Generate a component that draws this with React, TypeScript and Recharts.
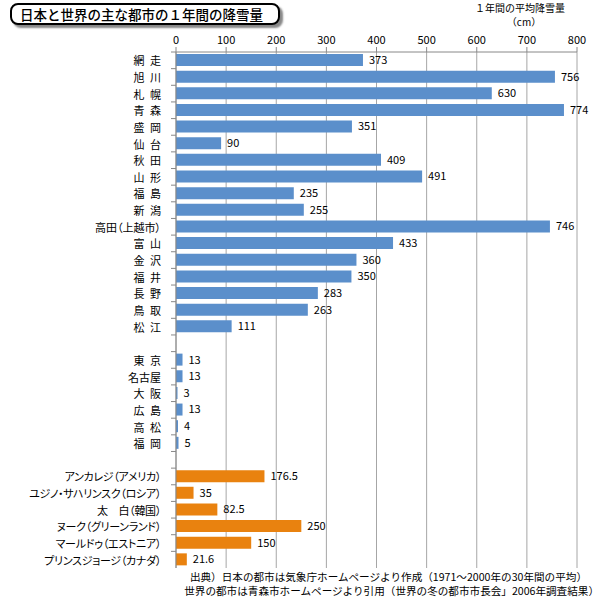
import React from "react";
import { BarChart, Bar, XAxis, YAxis, CartesianGrid, Cell, LabelList } from "recharts";

// 日本の豪雪都市
const snowyCities = ["網\u2002走", "旭\u2002川", "札\u2002幌", "青\u2002森", "盛\u2002岡", "仙\u2002台", "秋\u2002田", "山\u2002形", "福\u2002島", "新\u2002潟", "高田（上越市）", "富\u2002山", "金\u2002沢", "福\u2002井", "長\u2002野", "鳥\u2002取", "松\u2002江"];
const snowyValues = [373, 756, 630, 774, 351, 90, 409, 491, 235, 255, 746, 433, 360, 350, 283, 263, 111];

// 日本の主要都市
const majorCities = ["東\u2002京", "名古屋", "大\u2002阪", "広\u2002島", "高\u2002松", "福\u2002岡"];
const majorValues = [13, 13, 3, 13, 4, 5];

// 世界の都市
const worldCities = ["アンカレジ（アメリカ）", "ユジノ・サハリンスク（ロシア）", "太　白（韓国）", "ヌーク（グリーンランド）", "マールドゥ（エストニア）", "プリンスジョージ（カナダ）"];
const worldValues = [176.5, 35, 82.5, 250, 150, 21.6];

const xTicks = [0, 100, 200, 300, 400, 500, 600, 700, 800];

const BLUE = "#5b8fcb";
const ORANGE = "#e9820f";
const FONT = '"Noto Sans CJK JP", "Noto Sans", sans-serif';
const PALT = { fontFeatureSettings: '"palt"' };

type Row = { id: string; name: string; value: number | null; world: boolean };

const rows: Row[] = [
  ...snowyCities.map((n, i) => ({ id: "a" + i, name: n, value: snowyValues[i], world: false })),
  { id: "gap1", name: "", value: null, world: false },
  ...majorCities.map((n, i) => ({ id: "b" + i, name: n, value: majorValues[i], world: false })),
  { id: "gap2", name: "", value: null, world: false },
  ...worldCities.map((n, i) => ({ id: "c" + i, name: n, value: worldValues[i], world: true })),
];

const W = 615;
const H = 601;
const M = { top: 22, right: 38, bottom: 33, left: 0 };
const X_AXIS_H = 30;
const Y_AXIS_W = 176;
const band = (H - M.top - X_AXIS_H - M.bottom) / rows.length;

const CatTick = (props: any) => {
  const { x, y, payload } = props;
  const row = rows.find((r) => r.id === payload.value);
  const world = row ? row.world : false;
  return (
    <g>
      <text
        x={x - 7}
        y={y}
        textAnchor="end"
        dominantBaseline="central"
        fontSize={11}
        letterSpacing={world ? -0.3 : 0}
        fill="#000"
        fontFamily={FONT}
        style={PALT}
      >
        {row ? row.name : ""}
      </text>
      <line x1={Y_AXIS_W - 5} x2={Y_AXIS_W} y1={y - band / 2} y2={y - band / 2} stroke="#888" />
    </g>
  );
};

export default function App() {
  return (
    <div style={{ position: "absolute", left: 0, top: 0, width: W, height: H, background: "#fff", fontFamily: FONT }}>
      <div
        style={{
          position: "absolute",
          left: 10,
          top: 3,
          width: 258,
          height: 18,
          border: "2px solid #000",
          borderRadius: 8,
          boxShadow: "3px 3px 2px #888",
          background: "#fff",
          fontSize: 13.5,
          fontWeight: 500,
          lineHeight: "18px",
          paddingLeft: 8,
          boxSizing: "content-box",
          whiteSpace: "nowrap",
        }}
      >
        日本と世界の主な都市の１年間の降雪量
      </div>
      <BarChart width={W} height={H} data={rows} layout="vertical" margin={M} barCategoryGap={2}>
        <CartesianGrid horizontal={false} stroke="#a6a6a6" />
        <XAxis
          type="number"
          orientation="top"
          domain={[0, 800]}
          ticks={xTicks}
          height={X_AXIS_H}
          tick={{ fontSize: 11, fill: "#000", fontFamily: FONT }}
          tickSize={5}
          tickMargin={3}
          axisLine={{ stroke: "#888" }}
          tickLine={{ stroke: "#888" }}
        />
        <YAxis
          type="category"
          dataKey="id"
          width={Y_AXIS_W}
          tick={<CatTick />}
          interval={0}
          tickLine={false}
          axisLine={{ stroke: "#888" }}
        />
        <Bar dataKey="value" barSize={12} isAnimationActive={false}>
          {rows.map((r) => (
            <Cell key={r.id} fill={r.world ? ORANGE : BLUE} />
          ))}
          <LabelList
            dataKey="value"
            position="right"
            offset={6}
            fontSize={11}
            fill="#000"
            fontFamily={FONT}
            formatter={(v: any) => (v == null ? "" : v)}
          />
        </Bar>
      </BarChart>
      <div style={{ position: "absolute", left: 440, top: 1, width: 160, textAlign: "center", fontSize: 10, lineHeight: "14px" }}>
        １年間の平均降雪量
        <br />
        <span style={{ paddingLeft: 8 }}>（cm）</span>
      </div>
      <div style={{ position: "absolute", right: 28, top: 571, fontSize: 10.6, lineHeight: "12px", whiteSpace: "nowrap" }}>
        出典）日本の都市は気象庁ホームページより作成（1971～2000年の30年間の平均）
      </div>
      <div style={{ position: "absolute", right: 16, top: 585, fontSize: 10.6, lineHeight: "12px", whiteSpace: "nowrap" }}>
        世界の都市は青森市ホームページより引用（世界の冬の都市市長会」2006年調査結果）
      </div>
    </div>
  );
}
